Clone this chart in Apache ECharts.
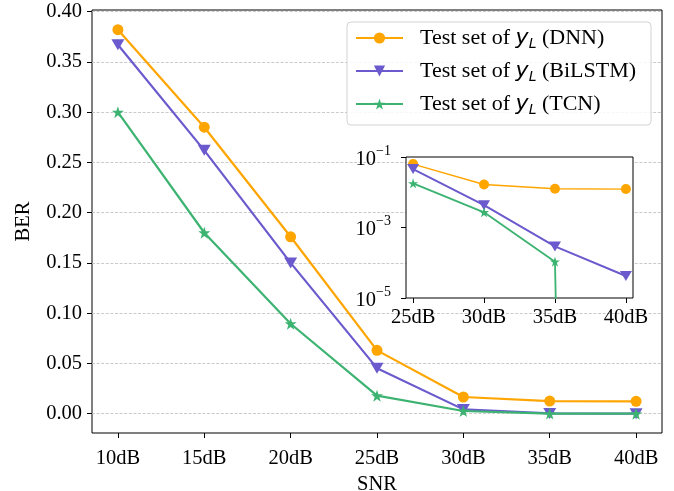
<!DOCTYPE html>
<html>
<head>
<meta charset="utf-8">
<script src="https://cdn.jsdelivr.net/npm/echarts@6/dist/echarts.min.js"></script>
<style>
  html, body { margin: 0; padding: 0; background: #fff; }
  #chart { width: 674px; height: 491px; }
</style>
</head>
<body>
<div id="chart"></div>
<script>
// data
var snr = [10, 15, 20, 25, 30, 35, 40];
var berDNN = [0.382, 0.285, 0.176, 0.063, 0.0166, 0.0126, 0.0123];
var berBiLSTM = [0.367, 0.262, 0.150, 0.0453, 0.0043, 0.00029, 0.000042];
var berTCN = [0.300, 0.180, 0.0895, 0.0179, 0.0027, 0.000107, 0];

var berTicks = [0, 0.05, 0.10, 0.15, 0.20, 0.25, 0.30, 0.35, 0.40];
var snrTicks = [10, 15, 20, 25, 30, 35, 40];
var insetSnrTicks = [25, 30, 35, 40];
var insetBerTicks = [1e-5, 1e-3, 1e-1];
var insetFrom = 3; // inset shows 25dB .. 40dB

var names = ['DNN', 'BiLSTM', 'TCN'];
var colors = ['#FFA500', '#6A5ACD', '#3CB371'];
var starPath = 'path://M50,0 L61.8,35.3 L99,35.3 L68.9,57.1 L80.3,92.7 L50,70.9 L19.7,92.7 L31.1,57.1 L1,35.3 L38.2,35.3 Z';

var serif = '"Liberation Serif", "Times New Roman", serif';
var tickFont = 20.5;
var chartDom = document.getElementById('chart');

function pairs(xs, ys, logSafe) {
    return xs.map(function (x, i) {
        var v = ys[i];
        // log axis can't hold 0: push it far below the axis so the line drops off like matplotlib
        if (logSafe && v <= 0) v = 1e-100;
        return [x, v];
    });
}

function createLineChart() {
    var myChart = echarts.init(chartDom);
    var option;

    var sets = [berDNN, berBiLSTM, berTCN];
    var symbols = ['circle', 'triangle', starPath];
    var rot = [0, 180, 0];
    var mainSizes = [11, [13, 11], 12];
    var insetSizes = [10, [12, 10], 10];
    var insetWidths = [1.4, 2, 1.8];

    var series = [];
    sets.forEach(function (d, i) {
        series.push({
            name: names[i],
            type: 'line',
            xAxisIndex: 0, yAxisIndex: 0,
            data: pairs(snr, d, false),
            symbol: symbols[i],
            symbolRotate: rot[i],
            symbolSize: mainSizes[i],
            color: colors[i],
            lineStyle: { width: 2.2, color: colors[i] },
            itemStyle: { color: colors[i] },
            z: 2,
            animation: false
        });
    });
    sets.forEach(function (d, i) {
        series.push({
            name: names[i],
            type: 'line',
            xAxisIndex: 1, yAxisIndex: 1,
            data: pairs(snr.slice(insetFrom), d.slice(insetFrom), true),
            symbol: symbols[i],
            symbolRotate: rot[i],
            symbolSize: insetSizes[i],
            color: colors[i],
            lineStyle: { width: insetWidths[i], color: colors[i] },
            itemStyle: { color: colors[i] },
            clip: true,
            z: 5,
            animation: false
        });
    });

    var tickStyle = { show: true, length: 5, inside: false, lineStyle: { color: '#000', width: 1 } };

    option = {
        backgroundColor: '#fff',
        animation: false,
        grid: [
            { left: 92, right: 12, top: 10, bottom: 58, outerBoundsMode: 'none', containLabel: false,
              show: true, borderColor: '#000', borderWidth: 1, backgroundColor: 'transparent' },
            { left: 406, right: 41, top: 157, bottom: 193, outerBoundsMode: 'none', containLabel: false,
              show: true, borderColor: '#000', borderWidth: 1, backgroundColor: '#fff', z: 3 }
        ],
        legend: {
            orient: 'vertical',
            left: 347, top: 22,
            data: names,
            itemWidth: 47, itemHeight: 14, itemGap: 9,
            padding: [5, 15, 8, 8],
            backgroundColor: 'rgba(255,255,255,0.85)',
            borderColor: '#d3d3d3', borderWidth: 1, borderRadius: 4,
            z: 8,
            formatter: function (n) {
                return 'Test set of {y|y}{s|L} (' + n + ')';
            },
            textStyle: {
                fontFamily: serif, fontSize: 22, color: '#000',
                padding: [0, 0, 0, 12],
                rich: {
                    y: { fontFamily: '"DejaVu Sans"', fontStyle: 'italic', fontSize: 22, color: '#000' },
                    s: { fontFamily: '"DejaVu Sans"', fontStyle: 'italic', fontSize: 14, color: '#000', verticalAlign: 'top', padding: [12, 0, 0, 0] }
                }
            }
        },
        xAxis: [
            {
                gridIndex: 0, type: 'value', min: 8.5, max: 41.5, position: 'bottom',
                name: 'SNR', nameLocation: 'middle', nameGap: 33,
                nameTextStyle: { fontFamily: serif, fontSize: 20.5, color: '#000' },
                axisLine: { show: false, onZero: false },
                axisTick: Object.assign({ customValues: snrTicks }, tickStyle),
                axisLabel: { customValues: snrTicks, margin: 15, fontFamily: serif, fontSize: tickFont, color: '#000',
                    formatter: function (v) { return v + 'dB'; } },
                splitLine: { show: false }
            },
            {
                gridIndex: 1, type: 'value', min: 24.5, max: 40.5, z: 4, position: 'bottom',
                axisLine: { show: false, onZero: false },
                axisTick: Object.assign({ customValues: insetSnrTicks }, tickStyle),
                axisLabel: { customValues: insetSnrTicks, margin: 9, fontFamily: serif, fontSize: tickFont, color: '#000',
                    formatter: function (v) { return v + 'dB'; } },
                splitLine: { show: false }
            }
        ],
        yAxis: [
            {
                gridIndex: 0, type: 'value', min: -0.0192, max: 0.4016,
                name: 'BER', nameLocation: 'middle', nameGap: 58,
                nameTextStyle: { fontFamily: serif, fontSize: 20.5, color: '#000' },
                axisLine: { show: false, onZero: false },
                axisTick: Object.assign({ customValues: berTicks }, tickStyle),
                axisLabel: { customValues: berTicks, margin: 10, fontFamily: serif, fontSize: tickFont, color: '#000',
                    formatter: function (v) { return v.toFixed(2); } },
                splitLine: { show: true, lineStyle: { color: '#c4c4c4', width: 0.9, type: [3, 1.6] } }
            },
            {
                gridIndex: 1, type: 'log', logBase: 10, min: 1e-5, max: 1e-1, z: 4,
                axisLine: { show: false, onZero: false },
                axisTick: Object.assign({ customValues: insetBerTicks }, tickStyle),
                axisLabel: {
                    customValues: insetBerTicks, margin: 15, color: '#000',
                    formatter: function (v) {
                        return '{a|10}{b|\u2212' + Math.round(-Math.log10(v)) + '}';
                    },
                    rich: {
                        a: { fontFamily: serif, fontSize: tickFont, color: '#000', verticalAlign: 'bottom', padding: [5, 0, 0, 0] },
                        b: { fontFamily: serif, fontSize: 14, color: '#000', verticalAlign: 'top' }
                    }
                },
                splitLine: { show: false }
            }
        ],
        series: series
    };

    option && myChart.setOption(option);
}

createLineChart();
</script>
</body>
</html>
